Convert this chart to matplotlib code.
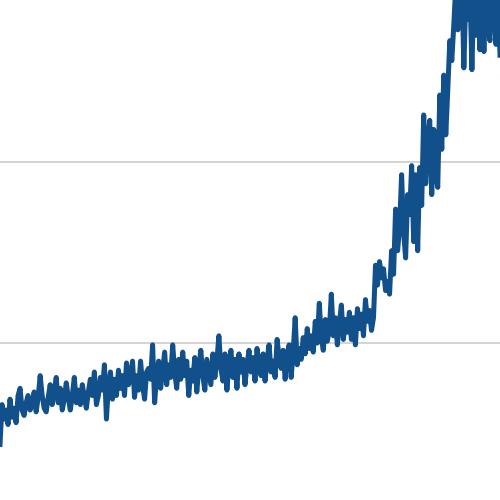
import matplotlib

matplotlib.use("Agg")
import matplotlib.pyplot as plt
import numpy as np

# Values (x every 2 px, y in chart units; grid at 100 and 200)

X_STEP = 2

values = [
    44, 66, 58, 63, 55, 69, 59, 64, 56, 71, 75, 63, 60, 67, 71, 63, 66, 73, 62, 70, 82, 71, 64, 62, 70,
    77, 66, 73, 81, 67, 75, 63, 69, 78, 70, 63, 71, 81, 67, 74, 66, 77, 70, 64, 73, 80, 71, 84, 66, 71,
    81, 74, 88, 58, 77, 84, 69, 80, 71, 85, 75, 82, 71, 89, 77, 81, 90, 70, 82, 74, 90, 77, 69, 84, 86,
    80, 99, 67, 82, 90, 75, 85, 95, 77, 88, 81, 99, 84, 75, 91, 80, 95, 82, 90, 71, 85, 79, 92, 73, 86,
    96, 82, 74, 91, 84, 77, 94, 81, 90, 104, 86, 79, 94, 74, 88, 96, 81, 91, 75, 94, 84, 91, 77, 88, 96,
    84, 92, 79, 97, 86, 82, 94, 79, 91, 99, 84, 90, 81, 102, 92, 86, 96, 80, 94, 99, 81, 95, 114, 88, 97,
    91, 103, 94, 108, 97, 104, 95, 112, 100, 122, 103, 96, 113, 101, 107, 127, 104, 114, 99, 111, 121, 102, 113, 106, 117,
    102, 114, 99, 119, 108, 116, 104, 124, 112, 118, 107, 114, 143, 132, 145, 136, 141, 129, 134, 127, 151, 138, 174, 151, 164,
    193, 161, 147, 182, 171, 198, 156, 193, 151, 197, 176, 226, 188, 213, 223, 182, 218, 193, 186, 237, 207, 248, 215, 240, 267,
    256, 276, 298, 273, 284, 301, 252, 292, 279, 298, 251, 295, 270, 301, 262, 292, 261, 298, 274, 267, 301, 284, 265, 295, 259,
]

grid_levels = [100, 200]

LINE_COLOR = "#11508a"
GRID_COLOR = "#c8c8c8"


def main():
    x = np.arange(len(values)) * X_STEP

    fig = plt.figure(figsize=(5, 5), dpi=100)
    ax = fig.add_axes([0, 0, 1, 1])

    for level in grid_levels:
        ax.axhline(level, color=GRID_COLOR, linewidth=1.1, zorder=1)

    ax.plot(x, values, color=LINE_COLOR, linewidth=3.6, zorder=2)

    ax.set_xlim(0, x[-1])
    ax.set_ylim(13.3, 289.5)
    ax.axis("off")

    fig.savefig("out.png", dpi=100)
    plt.close(fig)


if __name__ == "__main__":
    main()
